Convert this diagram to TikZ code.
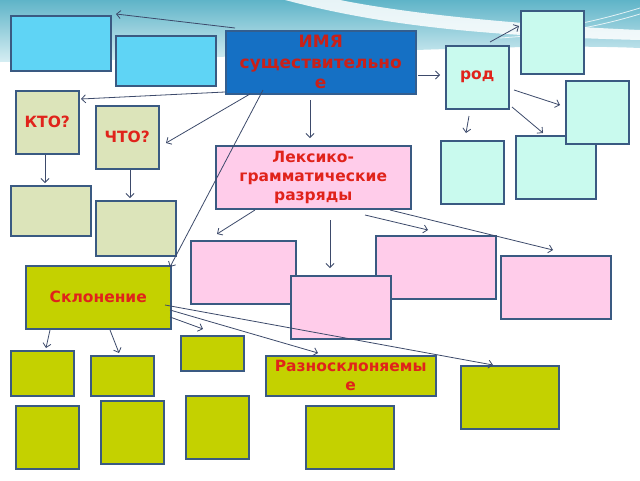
\documentclass[tikz,border=0pt]{standalone}
\usepackage{fontspec}
\setmainfont{DejaVu Sans}
\usetikzlibrary{arrows.meta}
\definecolor{bluel}{HTML}{5FD4F5}
\definecolor{mainblue}{HTML}{1570C4}
\definecolor{mint}{HTML}{C9FAEE}
\definecolor{olivep}{HTML}{DCE4BA}
\definecolor{pinkb}{HTML}{FFCCEA}
\definecolor{yg}{HTML}{C4D100}
\definecolor{edge}{HTML}{3A5A82}
\definecolor{redt}{HTML}{E0231B}
\definecolor{arr}{HTML}{3D4A6B}
\definecolor{tealtop}{HTML}{5FB4C8}
\definecolor{tealbot}{HTML}{D6EEF3}
\tikzset{
  boxbase/.style={draw=edge, line width=1.5pt, inner sep=0pt, align=center,
    text=redt, font=\fontsize{15.5}{19}\selectfont\bfseries},
  bluebox/.style={boxbase, fill=bluel},
  mainbox/.style={boxbase, fill=mainblue, draw=edge!80!mainblue, text=redt!90!black,
    font=\fontsize{17}{20.5}\selectfont\bfseries},
  mintbox/.style={boxbase, fill=mint},
  olivebox/.style={boxbase, fill=olivep},
  pinkbox/.style={boxbase, fill=pinkb},
  ygbox/.style={boxbase, fill=yg},
  conn/.style={draw=arr, line width=0.8pt, -{Straight Barb[length=4pt,width=8pt]}}
}
\newcommand\bx[7]{\node[#2, anchor=north west, minimum width={#5-#3}, minimum height={#6-#4}] (#1) at (#3,#4) {#7};}
\newcommand\rl[3]{([shift={(#2,#3)}]#1.north west)}
\begin{document}
\begin{tikzpicture}[x=1pt,y=-1pt]
\useasboundingbox (0,0) rectangle (640,480);
\fill[white] (0,0) rectangle (640,480);
% background wave
\shade[top color=tealtop, bottom color=tealbot] (0,0) -- (640,0) -- (640,48) .. controls (500,42) and (300,58) .. (0,62) -- cycle;
\fill[white, opacity=0.85] (285,0) .. controls (380,25) and (480,36) .. (640,40) -- (640,30) .. controls (500,24) and (400,12) .. (340,0) -- cycle;
\draw[white, line width=0.8pt, opacity=0.8] (500,34) .. controls (560,30) and (600,20) .. (640,8);
\draw[white, line width=0.8pt, opacity=0.8] (500,38) .. controls (560,34) and (600,26) .. (640,14);
% boxes
\bx{b1}{bluebox}{10}{15}{110}{70}{}
\bx{b2}{bluebox}{115}{35}{215}{85}{}
\bx{main}{mainbox}{225}{30}{415}{93}{ИМЯ\\существительно\\е}
\bx{rod}{mintbox}{445}{45}{508}{108}{род}
\bx{r1}{mintbox}{520}{10}{583}{73}{}
\bx{r3}{mintbox}{440}{140}{503}{203}{}
\bx{r4}{mintbox}{515}{135}{595}{198}{}
\bx{r2}{mintbox}{565}{80}{628}{143}{}
\bx{kto}{olivebox}{15}{90}{78}{153}{КТО?}
\bx{chto}{olivebox}{95}{105}{158}{168}{ЧТО?}
\bx{k1}{olivebox}{10}{185}{90}{235}{}
\bx{c1}{olivebox}{95}{200}{175}{255}{}
\bx{lex}{pinkbox}{215}{145}{410}{208}{Лексико-\\грамматические\\разряды}
\bx{p1}{pinkbox}{190}{240}{295}{303}{}
\bx{p3}{pinkbox}{375}{235}{495}{298}{}
\bx{p2}{pinkbox}{290}{275}{390}{338}{}
\bx{p4}{pinkbox}{500}{255}{610}{318}{}
\bx{skl}{ygbox}{25}{265}{170}{328}{Склонение}
\bx{g1}{ygbox}{10}{350}{73}{395}{}
\bx{g2}{ygbox}{90}{355}{153}{395}{}
\bx{g3}{ygbox}{180}{335}{243}{370}{}
\bx{razn}{ygbox}{265}{355}{435}{395}{Разносклоняемы\\е}
\bx{g5}{ygbox}{460}{365}{558}{428}{}
\bx{g6}{ygbox}{15}{405}{78}{468}{}
\bx{g7}{ygbox}{100}{400}{163}{463}{}
\bx{g8}{ygbox}{185}{395}{248}{458}{}
\bx{g9}{ygbox}{305}{405}{393}{468}{}
% connectors
\draw[conn] \rl{main}{10}{-2} -- \rl{b1}{106}{-1};
\draw[conn] \rl{main}{0}{62} -- \rl{kto}{66}{9};
\draw[conn] \rl{main}{25}{64} -- \rl{chto}{71}{38};
\draw[conn] \rl{main}{38}{60} -- \rl{skl}{145}{2};
\draw[conn] \rl{main}{85}{70} -- \rl{lex}{95}{-7};
\draw[conn] \rl{main}{193}{45} -- \rl{rod}{-5}{30};
\draw[conn] \rl{rod}{45}{-3} -- \rl{r1}{-1}{16};
\draw[conn] \rl{rod}{69}{45} -- \rl{r2}{-5}{25};
\draw[conn] \rl{rod}{24}{71} -- \rl{r3}{26}{-7};
\draw[conn] \rl{rod}{67}{62} -- \rl{r4}{28}{-2};
\draw[conn] \rl{kto}{30}{65} -- \rl{k1}{35}{-2};
\draw[conn] \rl{chto}{35}{65} -- \rl{c1}{35}{-2};
\draw[conn] \rl{lex}{40}{65} -- \rl{p1}{27}{-6};
\draw[conn] \rl{lex}{115}{75} -- \rl{p2}{40}{-7};
\draw[conn] \rl{lex}{150}{70} -- \rl{p3}{53}{-5};
\draw[conn] \rl{lex}{175}{65} -- \rl{p4}{53}{-5};
\draw[conn] \rl{skl}{25}{65} -- \rl{g1}{36}{-2};
\draw[conn] \rl{skl}{85}{65} -- \rl{g2}{29}{-2};
\draw[conn] \rl{skl}{145}{52} -- \rl{g3}{23}{-6};
\draw[conn] \rl{skl}{145}{45} -- \rl{razn}{53}{-2};
\draw[conn] \rl{skl}{140}{40} -- \rl{g5}{33}{0};
\end{tikzpicture}
\end{document}
